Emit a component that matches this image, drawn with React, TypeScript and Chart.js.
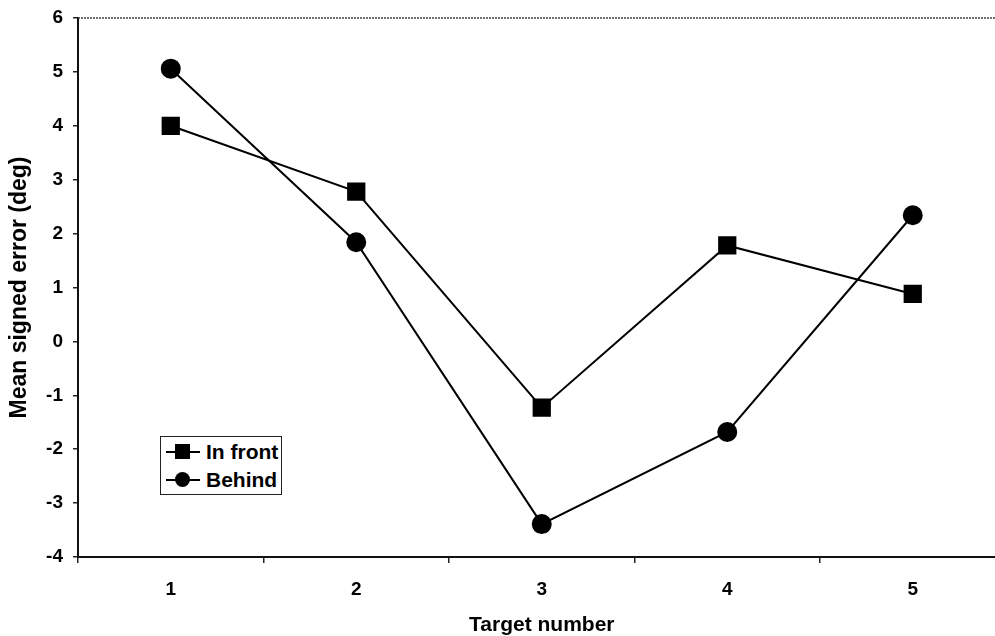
import { useEffect, useRef } from "react";
import { Chart, registerables } from "chart.js";

Chart.register(...registerables);

// values
const targets = ["1", "2", "3", "4", "5"];
const inFront = [4.0, 2.78, -1.23, 1.78, 0.88];
const behind = [5.06, 1.84, -3.39, -1.68, 2.34];
const seriesNames = ["In front", "Behind"];
const yMin = -4;
const yMax = 6;

const FONT = "'Liberation Sans', Arial, Helvetica, sans-serif";

// dotted frame line along the top of the plot area
const topBorder = {
  id: "topBorder",
  afterDraw(chart: Chart) {
    const { ctx, chartArea } = chart;
    ctx.save();
    ctx.strokeStyle = "#444";
    ctx.lineWidth = 1.5;
    ctx.setLineDash([2, 1]);
    ctx.beginPath();
    ctx.moveTo(chartArea.left, chartArea.top);
    ctx.lineTo(chartArea.right, chartArea.top);
    ctx.stroke();
    ctx.restore();
  },
};

function LegendIcon({ shape }: { shape: "square" | "circle" }) {
  return (
    <span style={{ position: "relative", display: "inline-block", width: 34, height: 16, marginRight: 6 }}>
      <span style={{ position: "absolute", left: 0, top: 7, width: 34, height: 2, background: "#000" }} />
      <span
        style={{
          position: "absolute",
          left: 9,
          top: 0,
          width: 15,
          height: 15,
          background: "#000",
          borderRadius: shape === "circle" ? "50%" : 0,
        }}
      />
    </span>
  );
}

export default function App() {
  const canvasRef = useRef<HTMLCanvasElement>(null);
  const chartRef = useRef<Chart | null>(null);

  useEffect(() => {
    if (!canvasRef.current) return;
    if (chartRef.current) chartRef.current.destroy();

    chartRef.current = new Chart(canvasRef.current, {
      type: "line",
      data: {
        labels: targets,
        datasets: [
          {
            label: seriesNames[0],
            data: inFront,
            borderColor: "#000",
            backgroundColor: "#000",
            borderWidth: 2,
            pointStyle: "rect",
            pointRadius: 11.5,
            tension: 0,
          },
          {
            label: seriesNames[1],
            data: behind,
            borderColor: "#000",
            backgroundColor: "#000",
            borderWidth: 2,
            pointStyle: "circle",
            pointRadius: 9,
            tension: 0,
          },
        ],
      },
      options: {
        animation: false,
        responsive: false,
        layout: { padding: { top: 18, right: 7, bottom: 0, left: 0 } },
        plugins: {
          legend: { display: false },
          tooltip: { enabled: false },
        },
        scales: {
          x: {
            offset: true,
            grid: {
              offset: true,
              drawOnChartArea: false,
              tickLength: 6,
              color: "#222",
              lineWidth: 1.5,
            },
            border: { color: "#111", width: 2 },
            ticks: {
              color: "#000",
              padding: 15,
              font: { family: FONT, size: 19, weight: "bold" },
            },
            title: {
              display: true,
              text: "Target number",
              color: "#000",
              padding: { top: 0, bottom: 0 },
              font: { family: FONT, size: 21, weight: "bold", lineHeight: 1.05 },
            },
            afterFit(scale) {
              scale.height = 79;
            },
          },
          y: {
            min: yMin,
            max: yMax,
            grid: {
              drawOnChartArea: false,
              tickLength: 5,
              color: "#222",
              lineWidth: 1.5,
            },
            border: { color: "#111", width: 2 },
            ticks: {
              stepSize: 1,
              color: "#000",
              padding: 10,
              font: { family: FONT, size: 19, weight: "bold" },
            },
            title: {
              display: true,
              text: "Mean signed error (deg)",
              color: "#000",
              padding: { top: 6, bottom: 0 },
              font: { family: FONT, size: 23, weight: "bold" },
            },
            afterFit(scale: any) {
              scale.width = 78;
              scale.paddingTop = 0;
              scale.paddingBottom = 0;
            },
          },
        },
      },
      plugins: [topBorder],
    });

    return () => {
      if (chartRef.current) {
        chartRef.current.destroy();
        chartRef.current = null;
      }
    };
  }, []);

  return (
    <div style={{ position: "absolute", left: 0, top: 0, width: 995, height: 636, overflow: "hidden", background: "#fff" }}>
      <div style={{ position: "relative", width: 1019, height: 636 }}>
        <canvas ref={canvasRef} width={1019} height={636} style={{ display: "block", width: 1019, height: 636 }}></canvas>
        <div
          style={{
            position: "absolute",
            left: 160,
            top: 436,
            width: 122,
            height: 59,
            border: "1.5px solid #222",
            background: "#fff",
            fontFamily: FONT,
            fontWeight: "bold",
            fontSize: 21,
            color: "#000",
            boxSizing: "border-box",
            padding: "1px 0 0 5px",
            lineHeight: "28px",
          }}
        >
          {seriesNames.map((name, i) => (
            <div key={name} style={{ display: "flex", alignItems: "center", height: 28 }}>
              <LegendIcon shape={i === 0 ? "square" : "circle"} />
              <span>{name}</span>
            </div>
          ))}
        </div>
      </div>
    </div>
  );
}
